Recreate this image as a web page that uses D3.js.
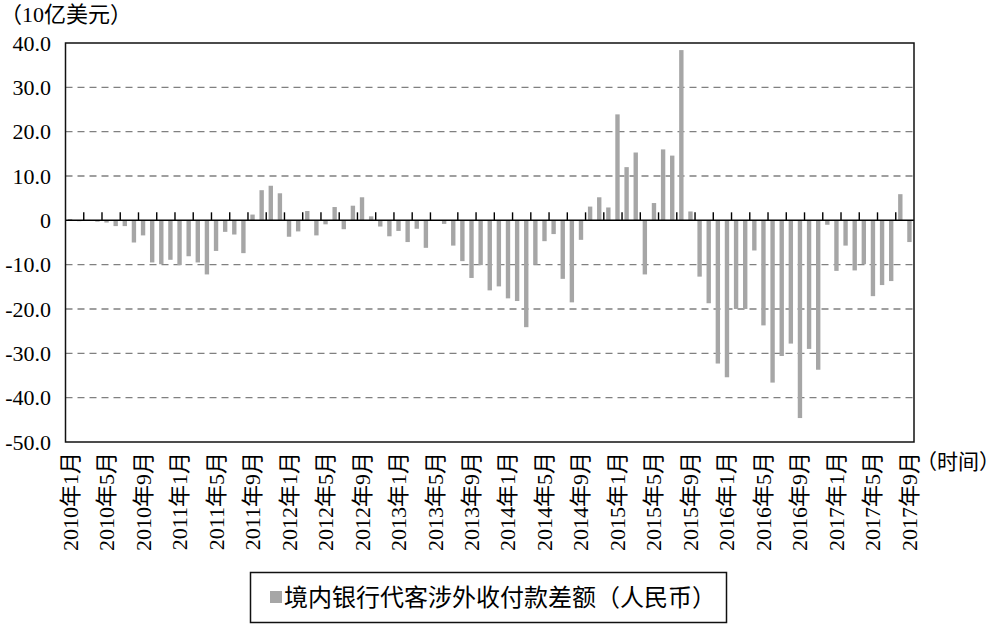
<!DOCTYPE html>
<html>
<head>
<meta charset="utf-8">
<script src="https://cdn.jsdelivr.net/npm/d3@7"></script>
<style>
  html, body { margin: 0; padding: 0; background: #fff; }
  svg { display: block; }
  text { font-family: 'Liberation Serif', 'Times New Roman', Times, 'DejaVu Serif', 'Noto Serif', 'Noto Sans CJK SC', serif; }
</style>
</head>
<body>
<div id="chart"></div>
<script>
// months 2010年1月 .. 2017年9月
const years = [2010, 2011, 2012, 2013, 2014, 2015, 2016, 2017]
const months = []
years.forEach(y => {
  const last = y === 2017 ? 9 : 12
  for (let m = 1; m <= last; m++) months.push(`${y}年${m}月`)
})

// 境内银行代客涉外收付款差额（人民币），10亿美元
const values = [
  // 2010
  0.3, -0.2, 0.1, -0.3, -0.5, -1.3, -1.3, -5.0, -3.4, -9.5, -9.9, -8.9,
  // 2011
  -10.1, -8.1, -9.5, -12.2, -6.9, -2.6, -3.2, -7.4, 1.3, 6.8, 7.8, 6.1,
  // 2012
  -3.7, -2.5, 2.1, -3.4, -0.9, 3.0, -2.0, 3.3, 5.2, 0.9, -1.4, -3.6,
  // 2013
  -2.4, -4.9, -1.9, -6.2, -0.1, -0.8, -5.7, -9.2, -13.0, -10.1, -15.8, -14.9,
  // 2014
  -17.6, -18.2, -24.1, -10.0, -4.7, -3.1, -13.2, -18.5, -4.4, 3.1, 5.2, 2.9,
  // 2015
  23.9, 12.0, 15.3, -12.2, 3.9, 16.0, 14.6, 38.4, 2.0, -12.7, -18.7, -32.3,
  // 2016
  -35.4, -20.0, -20.0, -6.8, -23.7, -36.6, -30.6, -27.8, -44.6, -29.0, -33.7, -1.0,
  // 2017
  -11.4, -5.7, -11.3, -9.9, -17.1, -14.6, -13.7, 5.9, -4.9
]

const xLabels = months.filter((d, i) => i % 4 === 0)
const yTicks = [40, 30, 20, 10, 0, -10, -20, -30, -40, -50]
// category boundaries that carry a small tick on the zero line
const tickBreaks = d3.range(2, 41, 2).concat(d3.range(43, 92, 2))

const unitLabel = '（10亿美元）'
const timeLabel = '（时间）'
const seriesName = '境内银行代客涉外收付款差额（人民币）'

const width = 1000
const height = 625
const plot = { left: 65.5, right: 914, top: 43, bottom: 442 }
const barColor = '#a6a6a6'

const svg = d3.select('#chart')
  .append('svg')
  .attr('width', width)
  .attr('height', height)

const x = d3.scaleBand()
  .domain(months)
  .range([plot.left, plot.right])
  .paddingInner(0.52)
  .paddingOuter(0.26)

const y = d3.scaleLinear()
  .domain([-50, 40])
  .range([plot.bottom, plot.top])

// dashed grid lines
svg.append('g')
  .selectAll('line')
  .data(yTicks.filter(d => d !== 0 && d !== 40 && d !== -50))
  .join('line')
  .attr('x1', plot.left)
  .attr('x2', plot.right)
  .attr('y1', d => y(d))
  .attr('y2', d => y(d))
  .attr('stroke', '#808080')
  .attr('stroke-width', 1.3)
  .attr('stroke-dasharray', '7,5')

// bars
svg.append('g')
  .selectAll('rect')
  .data(values)
  .join('rect')
  .attr('x', (d, i) => x(months[i]))
  .attr('width', x.bandwidth())
  .attr('y', d => y(Math.max(0, d)))
  .attr('height', d => Math.abs(y(d) - y(0)))
  .attr('fill', barColor)

// zero line with small ticks
svg.append('line')
  .attr('x1', plot.left)
  .attr('x2', plot.right)
  .attr('y1', y(0))
  .attr('y2', y(0))
  .attr('stroke', '#000')
  .attr('stroke-width', 1.5)

const half = x.step() * x.paddingInner() / 2
svg.append('g')
  .selectAll('line')
  .data(tickBreaks)
  .join('line')
  .attr('x1', b => x(months[b]) - half)
  .attr('x2', b => x(months[b]) - half)
  .attr('y1', y(0))
  .attr('y2', y(0) - 8)
  .attr('stroke', '#000')
  .attr('stroke-width', 1.4)

// plot frame
svg.append('rect')
  .attr('x', plot.left)
  .attr('y', plot.top)
  .attr('width', plot.right - plot.left)
  .attr('height', plot.bottom - plot.top)
  .attr('fill', 'none')
  .attr('stroke', '#111')
  .attr('stroke-width', 1.5)

// y tick labels
svg.append('g')
  .selectAll('text')
  .data(yTicks)
  .join('text')
  .attr('x', 51)
  .attr('y', d => y(d))
  .attr('text-anchor', 'end')
  .attr('dominant-baseline', 'central')
  .attr('font-size', '22px')
  .attr('fill', '#000')
  .text(d => d === 0 ? '0' : d.toFixed(1))

// x labels, rotated
svg.append('g')
  .selectAll('text')
  .data(xLabels)
  .join('text')
  .attr('transform', d => `translate(${x(d) + x.bandwidth() / 2},${plot.bottom + 10}) rotate(-90)`)
  .attr('text-anchor', 'end')
  .attr('dominant-baseline', 'central')
  .attr('font-size', '22px')
  .attr('fill', '#000')
  .text(d => d)

// unit and time labels
svg.append('text')
  .attr('x', 0)
  .attr('y', 14)
  .attr('dominant-baseline', 'central')
  .attr('font-size', '22px')
  .attr('fill', '#000')
  .text(unitLabel)

svg.append('text')
  .attr('x', 916)
  .attr('y', 462)
  .attr('dominant-baseline', 'central')
  .attr('font-size', '21px')
  .attr('fill', '#000')
  .text(timeLabel)

// legend
const legend = svg.append('g')
legend.append('rect')
  .attr('x', 250.5)
  .attr('y', 572.5)
  .attr('width', 476)
  .attr('height', 50)
  .attr('fill', '#fff')
  .attr('stroke', '#111')
  .attr('stroke-width', 1.5)
legend.append('rect')
  .attr('x', 270)
  .attr('y', 591)
  .attr('width', 12)
  .attr('height', 12)
  .attr('fill', barColor)
legend.append('text')
  .attr('x', 284)
  .attr('y', 598)
  .attr('dominant-baseline', 'central')
  .attr('font-size', '24px')
  .attr('fill', '#000')
  .text(seriesName)
</script>
</body>
</html>
